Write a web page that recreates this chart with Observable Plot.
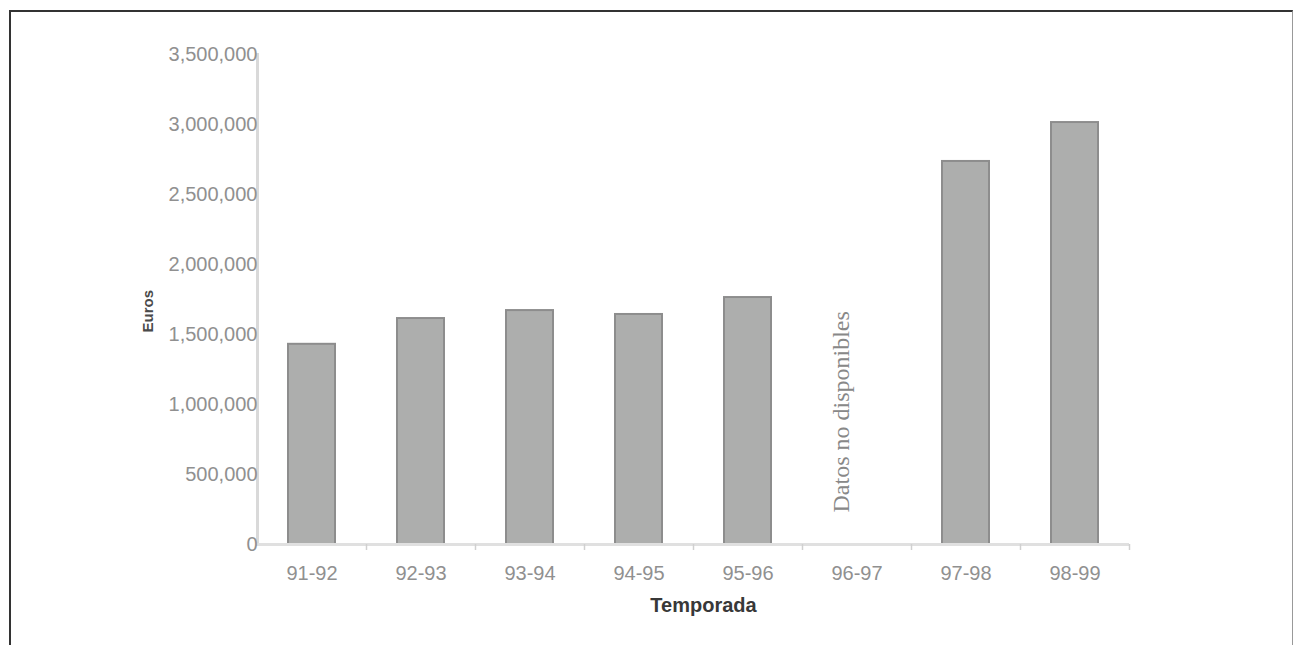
<!DOCTYPE html>
<html>
<head>
<meta charset="utf-8">
<script src="https://cdn.jsdelivr.net/npm/d3@7"></script>
<script src="https://cdn.jsdelivr.net/npm/@observablehq/plot@0.6"></script>
<style>
  html, body { margin: 0; padding: 0; background: #fff; overflow: hidden; }
  #wrap { position: relative; width: 1294px; height: 645px; }
  #border { position: absolute; left: 9px; top: 10px; width: 1281px; height: 700px;
            border-left: 2px solid #333; border-top: 2px solid #333; border-right: 1px solid #999; }
  #chart { position: absolute; left: 0; top: 0; }
</style>
</head>
<body>
<div id="wrap"><div id="border"></div><div id="chart"></div></div>
<script>
const seasons = ["91-92", "92-93", "93-94", "94-95", "95-96", "96-97", "97-98", "98-99"];
const euros = [1430000, 1614000, 1671000, 1643000, 1764000, null, 2736000, 3014000];
const yTicks = [0, 500000, 1000000, 1500000, 2000000, 2500000, 3000000, 3500000];
const notes = [{season: "96-97", text: "Datos no disponibles"}];

const data = seasons.map((s, i) => ({season: s, value: euros[i]}));

const W = 1294, H = 645;
const mL = 257, mR = 165, mT = 54, mB = 101;
const step = (W - mL - mR) / seasons.length;
const fmt = d3.format(",");

const chart = Plot.plot({
  width: W, height: H,
  marginLeft: mL, marginRight: mR, marginTop: mT, marginBottom: mB,
  style: {fontFamily: "'Liberation Sans', Arial, sans-serif", background: "transparent"},
  x: {domain: seasons, paddingInner: 0.57, paddingOuter: 0.285, label: null},
  y: {domain: [0, 3500000], label: null},
  marks: [
    Plot.frame({anchor: "left", stroke: "#d9d9d9", strokeWidth: 3}),
    Plot.barY(data.filter(d => d.value != null), {
      x: "season", y: "value", fill: "#adaead", stroke: "#8d8d8d", strokeWidth: 2
    }),
    Plot.ruleY([0], {stroke: "#e0e0e0", strokeWidth: 3}),
    Plot.axisY({ticks: yTicks, tickFormat: fmt, tickSize: 0, tickPadding: 0,
      fontSize: 20, fill: "#909090", label: null}),
    Plot.axisX({ticks: seasons, tickSize: 0, tickPadding: 21, fontSize: 20,
      fill: "#909090", label: null}),
    Plot.axisX({ticks: seasons, tickSize: 6, text: null, dx: step / 2,
      stroke: "#d0d0d0", strokeWidth: 1.5, label: null}),
    Plot.text(["Temporada"], {frameAnchor: "bottom", dy: 67, dx: 10,
      fontSize: 20, fill: "#383838", fontWeight: "bold"}),
    Plot.text(["Euros"], {frameAnchor: "left", dx: -109, dy: 33, rotate: -90,
      fontSize: 15, fontWeight: "bold", fill: "#4a4a4a"}),
    Plot.text(notes, {x: "season", frameAnchor: "bottom", dy: -32, dx: -8,
      text: "text", rotate: -90, textAnchor: "start",
      fontSize: 24, fill: "#888", fontFamily: "'Liberation Serif', 'Times New Roman', serif"})
  ]
});
document.getElementById("chart").append(chart);
</script>
</body>
</html>
